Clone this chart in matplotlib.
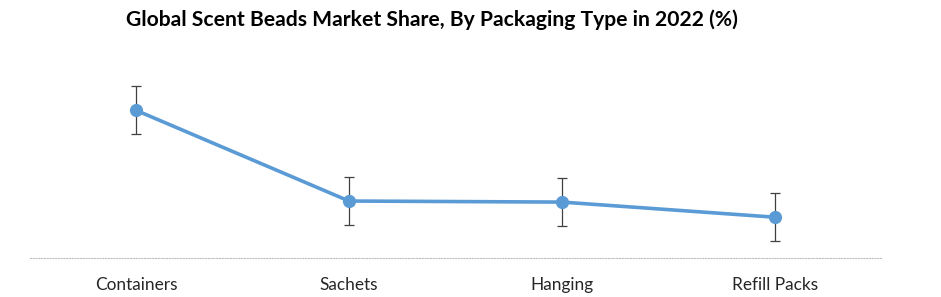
import matplotlib.pyplot as plt

categories = ['Containers', 'Sachets', 'Hanging', 'Refill Packs']
share = [42.0, 16.2, 15.9, 11.6]
error = [6.8, 6.8, 6.8, 6.8]

plt.rcParams['font.family'] = ['Lato', 'DejaVu Sans']

fig = plt.figure(figsize=(9.41, 2.97), dpi=100)
ax = fig.add_axes([29.5 / 941, 39 / 297, 852 / 941, 211 / 297])

x = range(len(categories))
ax.errorbar(x, share, yerr=error, fmt='none', ecolor='#404040', elinewidth=0.9,
            capsize=3.6, capthick=0.9, zorder=2)
ax.plot(x, share, color='#5b9bd5', linewidth=2.6, marker='o', markersize=8.5, zorder=3)

ax.set_xlim(-0.5, 3.5)
ax.set_ylim(0, 60)
ax.set_xticks(list(x))
ax.set_xticklabels(categories, fontsize=12.4, color='#262626')
ax.tick_params(axis='x', length=0, pad=14)
ax.set_yticks([])
for s in ['left', 'right', 'top']:
    ax.spines[s].set_visible(False)
ax.spines['bottom'].set_color('#bfbfbf')
ax.spines['bottom'].set_linestyle((0, (1, 1.5)))
ax.spines['bottom'].set_linewidth(0.8)

fig.text(432 / 941, 1 - 20 / 297, 'Global Scent Beads Market Share, By Packaging Type in 2022 (%)',
         ha='center', va='center', fontsize=15.2, fontweight='bold', color='black')

fig.savefig('out.png', dpi=100)
